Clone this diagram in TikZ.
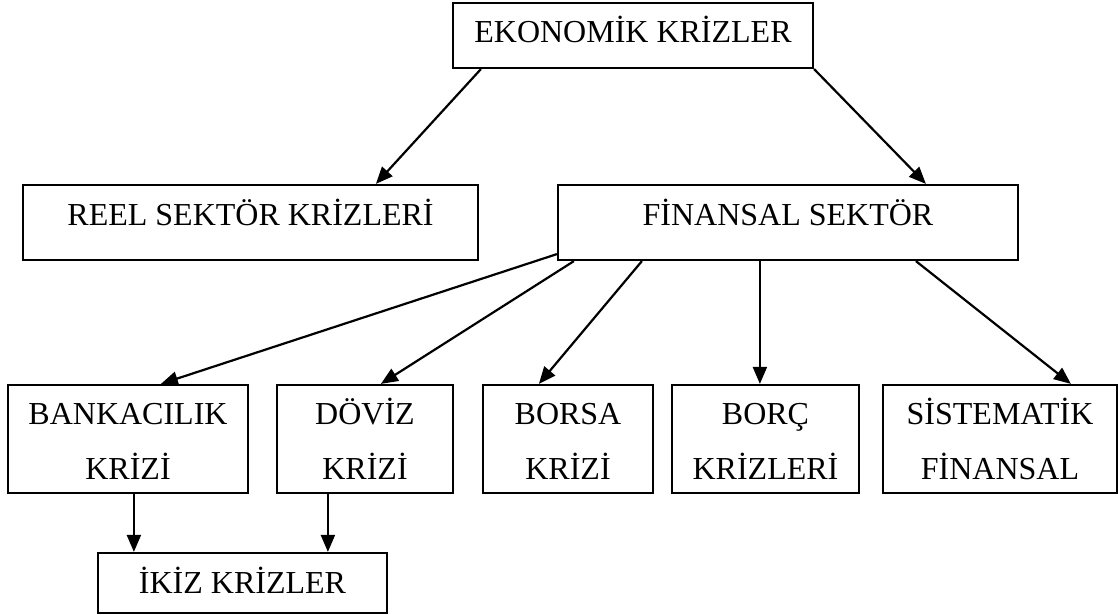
\documentclass[tikz,border=0pt]{standalone}
\usepackage{fontspec}
\setmainfont{Liberation Serif}
\usetikzlibrary{arrows.meta}
\begin{document}
\begin{tikzpicture}[x=1pt,y=-1pt,
  box/.style={draw,line width=2.2pt,rectangle,inner sep=0pt,align=center,
    font=\fontsize{32}{55}\selectfont},
  conn/.style={line width=2.2pt,-{Triangle[length=17pt,width=14pt]}}]
\useasboundingbox (0,0) rectangle (1118,615);
\node[box,minimum width=360pt,minimum height=65pt,text height=21pt,text depth=6pt] (eko) at (633,35.5) {EKONOMİK KRİZLER};
\node[box,minimum width=455pt,minimum height=75pt,text height=21pt,text depth=16pt] (reel) at (250.5,222.5) {REEL SEKTÖR KRİZLERİ};
\node[box,minimum width=460pt,minimum height=75pt,text height=21pt,text depth=16pt] (fin) at (788,222.5) {FİNANSAL SEKTÖR};
\node[box,minimum width=240pt,minimum height=108pt] (bank) at (128,439) {\vphantom{İ}BANKACILIK\\KRİZİ};
\node[box,minimum width=176pt,minimum height=108pt] (doviz) at (365,439) {\vphantom{İ}DÖVİZ\\KRİZİ};
\node[box,minimum width=170pt,minimum height=108pt] (borsa) at (568,439) {\vphantom{İ}BORSA\\KRİZİ};
\node[box,minimum width=187pt,minimum height=108pt] (borc) at (765.5,439) {\vphantom{İ}BORÇ\\KRİZLERİ};
\node[box,minimum width=234pt,minimum height=108pt] (sis) at (1000,439) {\vphantom{İ}SİSTEMATİK\\FİNANSAL};
\node[box,minimum width=289pt,minimum height=60pt,text height=21pt,text depth=1pt] (ikiz) at (242.5,583) {İKİZ KRİZLER};
\draw[conn] ([xshift=29pt]eko.south west) -- ([xshift=354pt]reel.north west);
\draw[conn] (eko.south east) -- ([xshift=369pt]fin.north west);
\draw[conn] ([yshift=7pt]fin.south west) -- ([xshift=154pt]bank.north west);
\draw[conn] ([xshift=17pt]fin.south west) -- ([xshift=105pt]doviz.north west);
\draw[conn] ([xshift=85pt]fin.south west) -- ([xshift=57pt]borsa.north west);
\draw[conn] ([xshift=203pt]fin.south west) -- ([xshift=89pt]borc.north west);
\draw[conn] ([xshift=359pt]fin.south west) -- ([xshift=189pt]sis.north west);
\draw[conn] ([xshift=127pt]bank.south west) -- ([xshift=37pt]ikiz.north west);
\draw[conn] ([xshift=52pt]doviz.south west) -- ([xshift=231pt]ikiz.north west);
\end{tikzpicture}
\end{document}
